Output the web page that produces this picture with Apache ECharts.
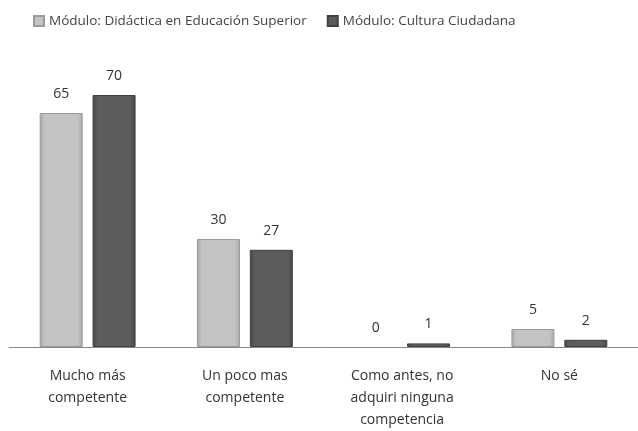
<!DOCTYPE html>
<html>
<head>
<meta charset="utf-8">
<script src="https://cdn.jsdelivr.net/npm/echarts@6/dist/echarts.min.js"></script>
<style>
  html, body { margin: 0; padding: 0; background: #fff; }
  #chart { width: 638px; height: 431px; }
</style>
</head>
<body>
<div id="chart"></div>
<script>
// categorías y valores
const categories = ['Mucho más\ncompetente', 'Un poco mas\ncompetente', 'Como antes, no\nadquiri ninguna\ncompetencia', 'No sé'];
const seriesNames = ['Módulo: Didáctica en Educación Superior', 'Módulo: Cultura Ciudadana'];
const didactica = [65, 30, 0, 5];
const cultura = [70, 27, 1, 2];

const chart = echarts.init(document.getElementById('chart'));

// degradado horizontal para imitar el biselado de Excel
function bevel(edge, mid) {
  return new echarts.graphic.LinearGradient(0, 0, 1, 0, [
    { offset: 0, color: edge },
    { offset: 0.12, color: mid },
    { offset: 0.88, color: mid },
    { offset: 1, color: edge }
  ]);
}

// las barras con valor 0 no llevan borde (en el original no se ven)
function toItems(values) {
  return values.map(v => v === 0 ? { value: v, itemStyle: { borderWidth: 0 } } : v);
}

const labelStyle = {
  show: true,
  position: 'top',
  distance: 12,
  fontSize: 14,
  color: '#333',
  fontFamily: 'Open Sans'
};

const option = {
  animation: false,
  textStyle: { fontFamily: 'Open Sans' },
  legend: {
    top: 9,
    left: 28,
    itemWidth: 10,
    itemHeight: 10,
    itemGap: 20,
    textStyle: { fontSize: 13.5, color: '#444' },
    data: [
      { name: seriesNames[0], icon: 'rect' },
      { name: seriesNames[1], icon: 'rect' }
    ]
  },
  grid: {
    left: 9,
    right: 0,
    top: 59,
    bottom: 84
  },
  xAxis: {
    type: 'category',
    data: categories,
    axisLine: { lineStyle: { color: '#888', width: 1 } },
    axisTick: { show: false },
    axisLabel: {
      fontSize: 14,
      color: '#333',
      lineHeight: 22,
      margin: 18,
      interval: 0
    }
  },
  yAxis: {
    type: 'value',
    min: 0,
    max: 80,
    show: false
  },
  series: [
    {
      name: seriesNames[0],
      type: 'bar',
      data: toItems(didactica),
      barWidth: 43,
      barGap: '23%',
      itemStyle: {
        color: bevel('#a9a9a9', '#c3c3c3'),
        borderColor: '#9a9a9a',
        borderWidth: 1
      },
      label: labelStyle
    },
    {
      name: seriesNames[1],
      type: 'bar',
      data: toItems(cultura),
      barWidth: 43,
      itemStyle: {
        color: bevel('#474747', '#5c5c5c'),
        borderColor: '#404040',
        borderWidth: 1
      },
      label: labelStyle
    }
  ]
};

chart.setOption(option);
</script>
</body>
</html>
